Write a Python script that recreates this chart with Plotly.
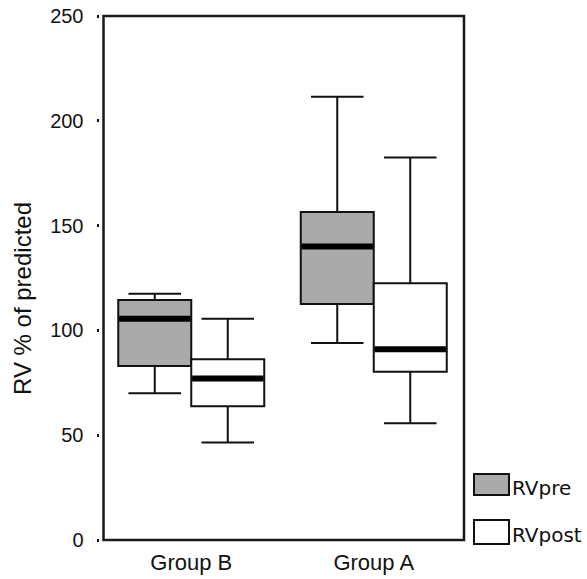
import plotly.graph_objects as go

# ---- data ----
groups = ["Group B", "Group A"]
series_names = ["RVpre", "RVpost"]
series_fill = ["#aaaaaa", "#ffffff"]

pre_lower = [70, 94]
pre_q1 = [83, 112.6]
pre_median = [105.5, 140]
pre_q3 = [114.5, 156.5]
pre_upper = [117.5, 211.5]

post_lower = [46.5, 55.7]
post_q1 = [63.8, 80.3]
post_median = [77, 91]
post_q3 = [86.2, 122.5]
post_upper = [105.5, 182.5]

y_ticks = [0, 50, 100, 150, 200, 250]

# ---- layout geometry (pixels) ----
W, H = 587, 579
L, R, T, B = 100, 465, 16, 540


def px(x):
    return (x - L) / (R - L)


def py(y):
    return (B - y) / (B - T)


fig = go.Figure()
stats = [
    (pre_lower, pre_q1, pre_median, pre_q3, pre_upper),
    (post_lower, post_q1, post_median, post_q3, post_upper),
]
for name, fill, (lo, q1, med, q3, up) in zip(series_names, series_fill, stats):
    fig.add_trace(go.Box(
        x=groups, q1=q1, median=med, q3=q3, lowerfence=lo, upperfence=up,
        name=name, fillcolor=fill, line=dict(color="#111111", width=2),
        whiskerwidth=0.72, boxpoints=False, showlegend=False,
    ))

shapes = []
# thick median lines
for s, (lo, q1, med, q3, up) in enumerate(stats):
    for i, m in enumerate(med):
        x0 = i - 0.4 + s * 0.4
        shapes.append(dict(type="line", xref="x", yref="y", x0=x0 + 0.005, x1=x0 + 0.395,
                           y0=m, y1=m, line=dict(color="#000000", width=6), layer="above"))
# frame
shapes.append(dict(type="rect", xref="paper", yref="paper",
                   x0=px(103.5), x1=px(464), y0=0, y1=1,
                   line=dict(color="#1a1a1a", width=2.5), fillcolor="rgba(0,0,0,0)", layer="above"))

annotations = [dict(text="RV % of predicted", textangle=-90, xref="paper", yref="paper",
                    x=px(22), y=py(299), xanchor="center", yanchor="middle", showarrow=False,
                    font=dict(family="Liberation Sans, Arial", size=24, color="#111111"))]

# manual legend
leg_y = [(474, 495), (520, 544)]
for name, fill, (ya, yb) in zip(series_names, series_fill, leg_y):
    shapes.append(dict(type="rect", xref="paper", yref="paper", x0=px(474), x1=px(509),
                       y0=py(yb), y1=py(ya), fillcolor=fill,
                       line=dict(color="#111111", width=2)))
    annotations.append(dict(text=name, xref="paper", yref="paper", x=px(510),
                            y=py((ya + yb) / 2 + 3), xanchor="left", yanchor="middle",
                            showarrow=False,
                            font=dict(family="DejaVu Sans", size=20, color="#111111")))

fig.update_layout(
    width=W, height=H, autosize=False,
    margin=dict(l=L, r=W - R, t=T, b=H - B, pad=0),
    paper_bgcolor="white", plot_bgcolor="white",
    boxmode="group", boxgap=0.2, boxgroupgap=0,
    shapes=shapes, annotations=annotations,
    showlegend=False,
    xaxis=dict(type="category", range=[-0.5, 1.5], showline=False, showgrid=False,
               zeroline=False, ticks="", ticklabelstandoff=7, automargin=False,
               tickfont=dict(family="Liberation Sans, Arial", size=22, color="#111111")),
    yaxis=dict(range=[0, 250], tickvals=y_ticks, showline=False, showgrid=False,
               zeroline=False, ticks="outside", ticklen=2.5, tickwidth=2.5, tickcolor="#111111",
               ticklabelstandoff=9, automargin=False,
               tickfont=dict(family="Liberation Sans, Arial", size=20, color="#111111")),
)

fig.write_html("out.html")
